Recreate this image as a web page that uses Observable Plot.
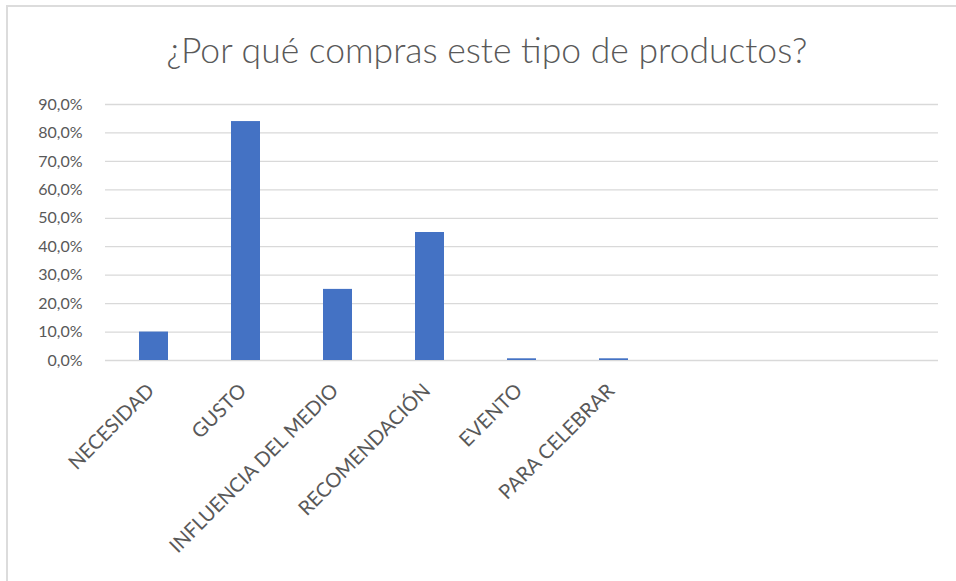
<!DOCTYPE html>
<html><head><meta charset="utf-8">
<script src="https://cdn.jsdelivr.net/npm/d3@7"></script>
<script src="https://cdn.jsdelivr.net/npm/@observablehq/plot@0.6"></script>
<style>
body{margin:0;background:#fff;font-family:Lato,"Open Sans",sans-serif;overflow:hidden;}
#frame{position:absolute;left:6px;top:5px;width:980px;height:600px;border-top:2px solid #dcdcdc;border-left:2px solid #dcdcdc;pointer-events:none;}
#title{height:90px;box-sizing:border-box;padding-top:35px;padding-left:18px;text-align:center;font-size:35.5px;line-height:30px;font-weight:300;color:#595959;white-space:nowrap;}
#chart svg{display:block;}
</style>
</head><body>
<div id="frame"></div>
<div id="title">¿Por qué compras este tipo de productos?</div>
<div id="chart"></div>
<script>
const categories = ["NECESIDAD","GUSTO","INFLUENCIA DEL MEDIO","RECOMENDACIÓN","EVENTO","PARA CELEBRAR"];
const values = [0.10, 0.84, 0.25, 0.45, 0.006, 0.006];
const emptySlots = ["", " ", "  "];
const yTicks = [0, 0.1, 0.2, 0.3, 0.4, 0.5, 0.6, 0.7, 0.8, 0.9];

const data = categories.map((c, i) => ({cat: c, value: values[i]}));
const locale = d3.formatLocale({decimal: ",", thousands: ".", grouping: [3], currency: ["", "€"], percent: "%"});
const pct = locale.format(".1%");

const chart = Plot.plot({
  width: 956,
  height: 491,
  marginTop: 14,
  marginBottom: 221,
  marginLeft: 105,
  marginRight: 18,
  style: {fontFamily: "Lato, 'Open Sans', sans-serif", fontSize: "16px", color: "#595959", background: "transparent"},
  x: {domain: [...categories, ...emptySlots], paddingInner: 0.68, paddingOuter: 0.34, label: null},
  y: {domain: [0, 0.9], label: null},
  marks: [
    Plot.ruleY(yTicks, {stroke: "#d9d9d9", strokeWidth: 1.3}),
    Plot.barY(data, {x: "cat", y: "value", fill: "#4472c4"}),
    Plot.axisY(yTicks, {tickSize: 0, tickPadding: 23, tickFormat: pct, fontSize: 16, label: null}),
    Plot.axisX({tickSize: 0, tickRotate: -45, tickPadding: 27, dx: -3, fontSize: 20, label: null})
  ]
});
document.getElementById("chart").appendChild(chart);
</script>
</body></html>
